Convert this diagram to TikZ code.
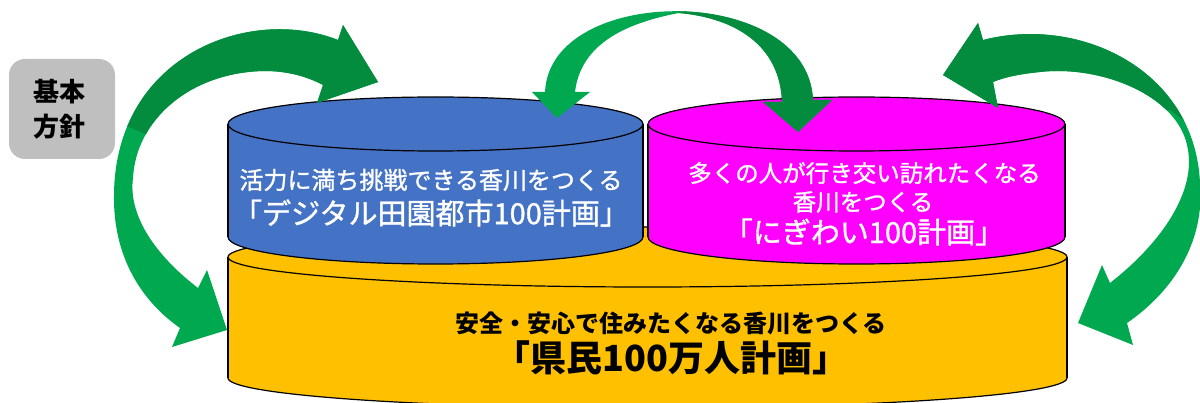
\documentclass[tikz,border=0pt]{standalone}
\usepackage{fontspec}
\setmainfont{Noto Sans CJK JP}
\newfontfamily\wfont[FakeBold=1.2]{Noto Sans CJK JP}
\definecolor{cblue}{HTML}{4472C4}
\definecolor{cmag}{HTML}{FF00FF}
\definecolor{cyel}{HTML}{FFC000}
\definecolor{cgrey}{HTML}{BFBFBF}
\definecolor{glight}{HTML}{00A94F}
\definecolor{gdark}{HTML}{038C3E}
\newcommand\fs[1]{\fontsize{#1}{#1}\selectfont}
% cylinder: #1 colour, #2 cx, #3 rx, #4 top cy, #5 bottom cy, #6 ry
\newcommand\mycyl[6]{%
  \filldraw[fill=#1, cylline] (#2,#5) ellipse [x radius=#3pt, y radius=#6pt];
  \fill[#1] (#2-#3,#4) rectangle (#2+#3,#5);
  \draw[cylline] (#2-#3,#4) -- (#2-#3,#5) (#2+#3,#4) -- (#2+#3,#5);
  \filldraw[fill=#1, cylline] (#2,#4) ellipse [x radius=#3pt, y radius=#6pt];
}
\newcommand\arrowLeft[1]{%
  \fill[#1] (378,82) -- (343,25) -- (338,40)
    .. controls (250,5) and (115,55) .. (114,195)
    .. controls (113,255) and (140,300) .. (180,328)
    -- (172,347) -- (227,330) -- (207,270) -- (198,288)
    .. controls (155,255) and (128,215) .. (133,178)
    .. controls (136,120) and (190,72) .. (265,71)
    .. controls (290,71) and (310,78) .. (323,85)
    -- (317,103) -- cycle;
}
\newcommand\arrowRight[1]{%
  \fill[#1] (943,75) -- (978,23) -- (983,40)
    .. controls (1080,15) and (1195,70) .. (1200,183)
    .. controls (1205,240) and (1175,290) .. (1127,323)
    -- (1133,345) -- (1078,323) -- (1102,265) -- (1110,283)
    .. controls (1165,240) and (1195,190) .. (1188,150)
    .. controls (1180,95) and (1100,65) .. (1040,72)
    .. controls (1020,74) and (1005,77) .. (993,82)
    -- (998,108) -- cycle;
}
\newcommand\arrowMid[1]{%
  \fill[#1] (557,118) -- (532,92) -- (545,92)
    .. controls (550,-17) and (808,-17) .. (813,100)
    -- (832,100) -- (798,132) -- (763,102) -- (782,102)
    .. controls (780,45) and (735,18) .. (679,13)
    .. controls (615,25) and (580,50) .. (575,92)
    -- (590,92) -- cycle;
}
\tikzset{
  cylline/.style={draw=black, line width=1.2pt},
  wtext/.style={text=white, inner sep=0pt},
  btext/.style={text=black, inner sep=0pt},
}
\begin{document}
\begin{tikzpicture}[x=1pt, y=-1pt]
\useasboundingbox (0,0) rectangle (1200,403);
\begin{scope}
\clip (0,0) rectangle (1200,403);
% label box
\node[fill=cgrey, rounded corners=16pt, minimum width=106pt, minimum height=100pt, inner sep=0pt] (kbox) at (62,109) {};
\node[btext, font=\fs{26pt}\bfseries] (k1) at (59,92) {基本};
\node[btext, font=\fs{26pt}\bfseries] (k2) at (59,127) {方針};
% cylinders
\mycyl{cyel}{647.5}{419.5}{257}{378}{30}
\mycyl{cblue}{435.5}{207.5}{124}{237}{27}
\mycyl{cmag}{856.5}{208.5}{124}{237}{27}
% texts
\node[wtext, font=\wfont\fs{24pt}] (b1) at (431,180) {活力に満ち挑戦できる香川をつくる};
\node[wtext, font=\wfont\fs{29pt}] (b2) at (431,213) {「デジタル田園都市100計画」};
\node[wtext, font=\wfont\fs{23.5pt}] (m1) at (864.5,173) {多くの人が行き交い訪れたくなる};
\node[wtext, font=\wfont\fs{23.5pt}] (m2) at (863,202) {香川をつくる};
\node[wtext, font=\wfont\fs{29pt}] (m3) at (864,232) {「にぎわい100計画」};
\node[btext, font=\fs{24pt}\bfseries] (y1) at (671,323) {安全・安心で住みたくなる香川をつくる};
\node[btext, font=\fs{36pt}\bfseries] (y2) at (671.5,358) {「県民100万人計画」};
% arrows
\arrowLeft{glight}
\begin{scope}
  \clip (40,-10) -- (420,-10) -- (420,140) -- (160,140) -- (100,115) -- (40,115) -- cycle;
  \arrowLeft{gdark}
\end{scope}
\arrowRight{glight}
\begin{scope}
  \clip (900,-10) -- (1250,-10) -- (1250,170) -- (1170,110) -- (900,110) -- cycle;
  \arrowRight{gdark}
\end{scope}
\arrowMid{glight}
\begin{scope}
  \clip (679,-10) rectangle (900,150);
  \arrowMid{gdark}
\end{scope}
\end{scope}
\end{tikzpicture}
\end{document}
